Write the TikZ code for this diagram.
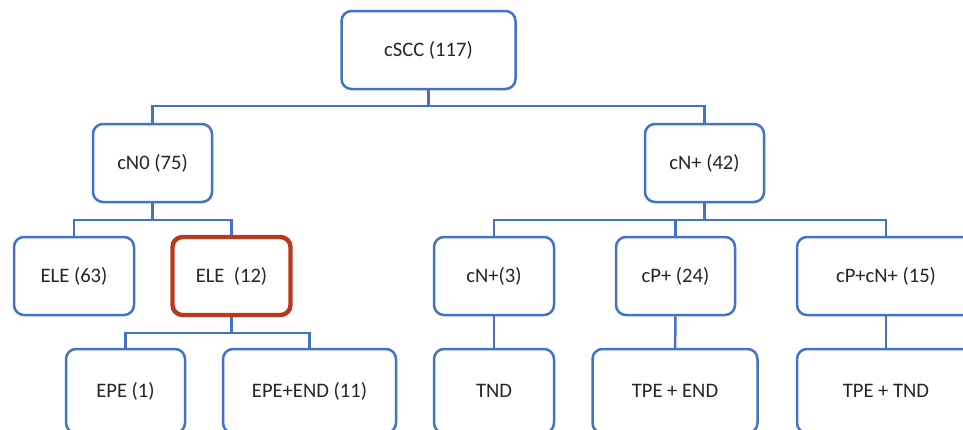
\documentclass[tikz,border=0pt]{standalone}
\usepackage{fontspec}
\setmainfont{Carlito}
\usetikzlibrary{positioning,calc}
\definecolor{boxblue}{RGB}{68,114,196}
\definecolor{boxred}{RGB}{184,58,30}

\begin{document}
\begin{tikzpicture}[x=0.5pt, y=-0.5pt,
    box/.style={draw=boxblue, line width=1.25pt, rounded corners=5pt, fill=white,
      minimum height=39pt, font=\fontsize{10.3}{12}\selectfont, text=black!85},
    redbox/.style={box, draw=boxred, line width=2.2pt},
    link/.style={draw=boxblue, line width=1.25pt}]
    \useasboundingbox (0,0) rectangle (963,429);
    \clip (0,0) rectangle (963,429);
    % top level
    \node[box, minimum width=87pt] (cscc) at (428.5,50) {cSCC (117)};
    \node[box, minimum width=59.5pt] (cn0) at (152.5,163) {cN0 (75)};
    \node[box, minimum width=59.5pt] (cnp) at (704.5,163) {cN+ (42)};
    % second level
    \node[box, minimum width=60pt] (ele63) at (74,276) {ELE (63)};
    \node[redbox, minimum width=59pt] (ele12) at (231.5,276) {ELE~ (12)};
    \node[box, minimum width=60pt] (cn3) at (494,276) {cN+(3)};
    \node[box, minimum width=59.5pt] (cp24) at (675.5,276) {cP+ (24)};
    \node[box, minimum width=89pt] (cpcn) at (886,276) {cP+cN+ (15)};
    % bottom level (cut by the page edge)
    \node[box, minimum width=59.5pt, minimum height=42pt] (epe1) at (125.5,391) {EPE (1)};
    \node[box, minimum width=86.5pt, minimum height=42pt] (epeend) at (309.5,391) {EPE+END (11)};
    \node[box, minimum width=60pt, minimum height=42pt] (tnd) at (494,391) {TND};
    \node[box, minimum width=82.5pt, minimum height=42pt] (tpeend) at (675,391) {TPE + END};
    \node[box, minimum width=89pt, minimum height=42pt] (tpetnd) at (886,391) {TPE + TND};
    % bus points
    \coordinate (bus1) at (428.5,106);
    \coordinate (bus2) at (152.5,220);
    \coordinate (bus3) at (704.5,220);
    \coordinate (bus4) at (231.5,333);
    \draw[link] (cscc.south) -- (bus1) -| (cn0.north);
    \draw[link] (bus1) -| (cnp.north);
    \draw[link] (cn0.south) -- (bus2) -| (ele63.north);
    \draw[link] (bus2) -| (ele12.north);
    \draw[link] (cnp.south) -- (bus3) -| (cn3.north);
    \draw[link] (bus3) -| (cp24.north);
    \draw[link] (bus3) -| (cpcn.north);
    \draw[link] (ele12.south) -- (bus4) -| (epe1.north);
    \draw[link] (bus4) -| (epeend.north);
    \draw[link] (cn3) -- (tnd);
    \draw[link] (cp24) -- (tpeend);
    \draw[link] (cpcn) -- (tpetnd);
\end{tikzpicture}
\end{document}
